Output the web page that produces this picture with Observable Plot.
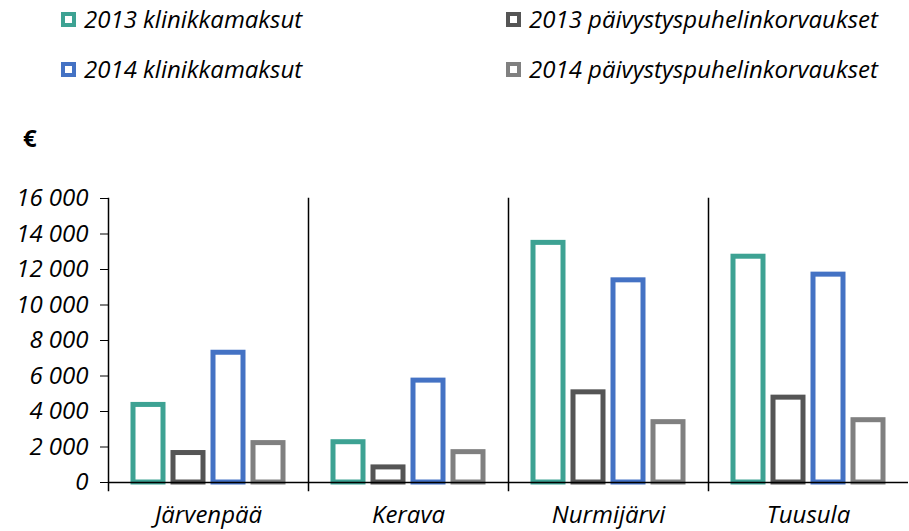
<!DOCTYPE html>
<html>
<head>
<meta charset="utf-8">
<script src="https://cdn.jsdelivr.net/npm/d3@7"></script>
<script src="https://cdn.jsdelivr.net/npm/@observablehq/plot@0.6"></script>
<style>
  html, body { margin: 0; padding: 0; background: white; overflow: hidden; }
  #wrap { position: relative; width: 909px; height: 531px; font-family: "Open Sans", sans-serif; }
  .leg { position: absolute; display: flex; align-items: center; height: 28px; font-size: 24px; font-style: italic; line-height: 28px; color: #000; white-space: nowrap; }
  .sw { width: 15px; height: 15px; box-sizing: border-box; border: 4px solid; background: white; margin-right: 8px; }
  #euro { position: absolute; left: 23px; top: 121px; font-size: 24px; font-weight: bold; }
  #chart { position: absolute; left: 0; top: 180px; }
  #chart svg line { stroke-width: 1.5; }
</style>
</head>
<body>
<div id="wrap">
  <div id="legend"></div>
  <div id="euro">€</div>
  <div id="chart"></div>
</div>
<script>
const cities = ["Järvenpää", "Kerava", "Nurmijärvi", "Tuusula"];
const series = ["2013 klinikkamaksut", "2013 päivystyspuhelinkorvaukset", "2014 klinikkamaksut", "2014 päivystyspuhelinkorvaukset"];
const colors = ["#3DA293", "#555555", "#4472C4", "#808080"];
const klinikka2013 = [4370, 2270, 13500, 12720];
const paivystys2013 = [1660, 850, 5080, 4780];
const klinikka2014 = [7310, 5740, 11390, 11710];
const paivystys2014 = [2220, 1710, 3400, 3510];
const yTicks = [0, 2000, 4000, 6000, 8000, 10000, 12000, 14000, 16000];

const seriesValues = [klinikka2013, paivystys2013, klinikka2014, paivystys2014];
const data = [];
cities.forEach((c, i) => series.forEach((s, j) => data.push({city: c, series: s, value: seriesValues[j][i]})));

// legend (HTML)
const legend = document.getElementById("legend");
const legPos = [[61, 5], [506, 5], [61, 55], [506, 55]];
series.forEach((s, i) => {
  const d = document.createElement("div");
  d.className = "leg";
  d.style.left = legPos[i][0] + "px";
  d.style.top = legPos[i][1] + "px";
  const sw = document.createElement("span");
  sw.className = "sw";
  sw.style.borderColor = colors[i];
  d.appendChild(sw);
  d.appendChild(document.createTextNode(s));
  legend.appendChild(d);
});

const fmt = v => d3.format(",")(v).replace(/,/g, " ");

const chart = Plot.plot({
  width: 909,
  height: 351,
  marginTop: 18,
  marginBottom: 49,
  marginLeft: 106,
  marginRight: 0,
  style: {fontFamily: "Open Sans, sans-serif", fontSize: "24px", fontStyle: "italic", color: "black", background: "white", overflow: "visible"},
  fx: {domain: cities, padding: 0, axis: "bottom", tickSize: 0, tickPadding: 23, label: null},
  x: {domain: series, axis: null, paddingInner: 0.26, paddingOuter: 0.6},
  y: {domain: [0, 16000], ticks: yTicks, tickFormat: fmt, tickSize: 8, tickPadding: 12, label: null},
  color: {domain: series, range: colors},
  marks: [
    Plot.barY(data, {fx: "city", x: "series", y: "value", fill: "white", stroke: "series", strokeWidth: 5}),
    Plot.frame({anchor: "left", insetBottom: -8, stroke: "black", strokeWidth: 1.6}),
    Plot.ruleY([0], {stroke: "black", strokeWidth: 1.6})
  ]
});
document.getElementById("chart").appendChild(chart);
</script>
</body>
</html>
